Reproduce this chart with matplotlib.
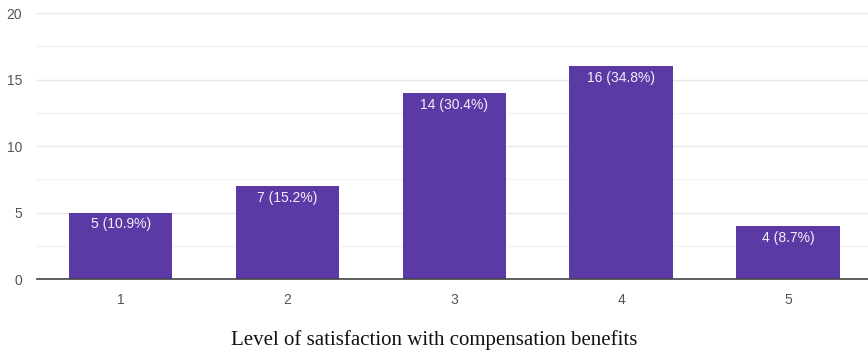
import matplotlib.pyplot as plt
import numpy as np

levels = ['1', '2', '3', '4', '5']
counts = [5, 7, 14, 16, 4]
percents = [10.9, 15.2, 30.4, 34.8, 8.7]

bar_color = '#5c3aa6'
tick_color = '#555555'
plt.rcParams['font.family'] = ['Liberation Sans', 'DejaVu Sans']

fig = plt.figure(figsize=(8.68, 3.52), dpi=100)
ax = fig.add_axes([0.043, 0.207, 0.957, 0.756])

x = np.arange(1, len(levels) + 1)
bars = ax.bar(x, counts, width=0.62, color=bar_color, zorder=3)

for rect, c, p in zip(bars, counts, percents):
    ax.text(rect.get_x() + rect.get_width() / 2, c - 0.35, f'{c} ({p}%)',
            ha='center', va='top', color='#f2f0f8', fontsize=10, zorder=4)

ax.set_xlim(0.5, 5.48)
ax.set_ylim(0, 20)
ax.set_xticks(x)
ax.set_xticklabels(levels)
ax.set_yticks([0, 5, 10, 15, 20])
ax.set_yticks([2.5, 7.5, 12.5, 17.5], minor=True)

ax.grid(axis='y', which='major', color='#e8e8e8', linewidth=1, zorder=0)
ax.grid(axis='y', which='minor', color='#f3f3f3', linewidth=1, zorder=0)

for side in ['top', 'right', 'left']:
    ax.spines[side].set_visible(False)
ax.spines['bottom'].set_color('#444444')
ax.spines['bottom'].set_linewidth(1.2)
ax.spines['bottom'].set_zorder(5)

ax.tick_params(axis='both', which='both', length=0, labelsize=10, labelcolor=tick_color)
ax.tick_params(axis='x', pad=10)
ax.tick_params(axis='y', pad=11)

# caption centred on the whole figure rather than the axes
fig.text(0.5, 0.034, 'Level of satisfaction with compensation benefits',
         ha='center', va='center', fontfamily='Liberation Serif',
         fontsize=15, color='#111111')

fig.savefig('out.png', dpi=100)
